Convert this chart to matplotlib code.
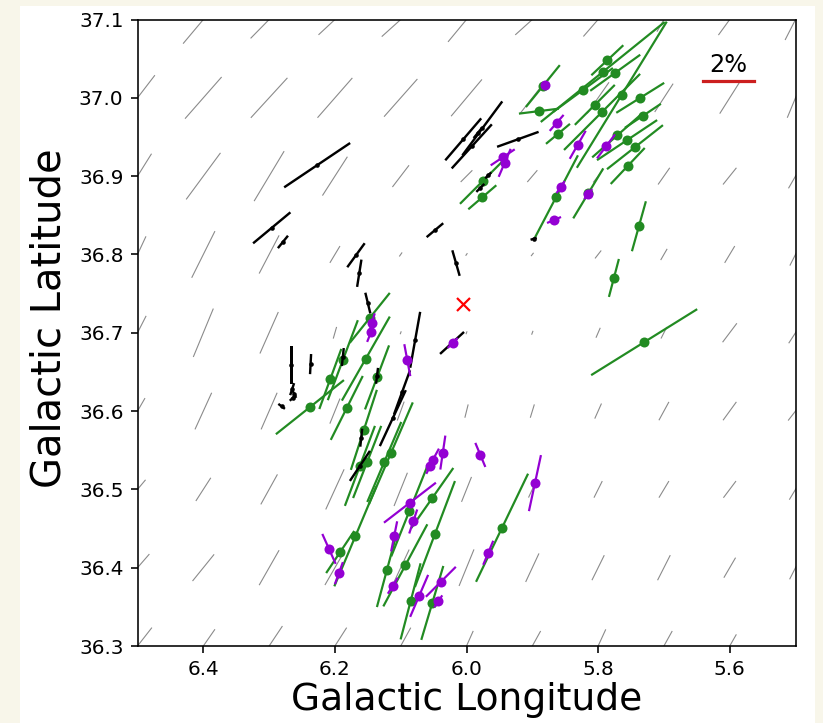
import matplotlib
matplotlib.use("Agg")
import matplotlib.pyplot as plt
import numpy as np
from matplotlib.patches import Rectangle

# ---- background field (Planck-like), rows = lat 37.1 -> 36.3, cols = lon 6.5 -> 5.5
bg_lon = [6.5, 6.4, 6.3, 6.2, 6.1, 6.0, 5.9, 5.8, 5.7, 5.6, 5.5]
bg_lat = [37.1, 37.0, 36.9, 36.8, 36.7, 36.6, 36.5, 36.4, 36.3]
bg_p = [
    [2.13, 2.44, 2.05, 1.74, 1.98, 2.25, 1.78, 1.74, 1.09, 1.49, 1.78],
    [2.21, 2.15, 2.10, 2.05, 1.95, 1.86, 1.55, 1.47, 1.31, 1.45, 1.67],
    [2.05, 2.24, 2.26, 1.79, 1.06, 0.64, 0.60, 0.62, 0.79, 0.83, 1.09],
    [1.55, 2.02, 1.67, 0.76, 0.19, 0.12, 0.16, 0.39, 0.50, 0.76, 0.97],
    [1.47, 2.03, 1.76, 0.47, 0.12, 0.12, 0.16, 0.42, 0.50, 0.92, 0.97],
    [1.16, 1.56, 1.55, 1.05, 0.78, 0.53, 0.54, 0.64, 0.81, 0.88, 0.93],
    [0.97, 1.07, 1.33, 1.71, 1.39, 1.04, 0.70, 0.72, 0.75, 0.81, 0.93],
    [1.40, 1.33, 1.56, 1.55, 1.55, 1.53, 1.22, 1.08, 1.09, 0.90, 1.01],
    [1.81, 1.58, 1.86, 1.69, 1.62, 1.28, 1.33, 1.42, 1.33, 1.04, 0.97],
]
bg_pa = [
    [140, 140, 135.5, 133, 132, 140.4, 132, 139, 150, 144, 153],
    [142.5, 138.7, 137.5, 138.8, 138.5, 140, 142, 145, 147, 147.7, 157.5],
    [148, 143.6, 149, 147.3, 142.6, 135, 139.5, 142, 145, 141.2, 150],
    [155, 153.5, 152.4, 149, 145, 145, 142, 142, 150, 149, 153],
    [153, 157.5, 156.1, 164, 160, 160, 160, 156.6, 153, 143, 147],
    [150, 155.5, 156.4, 158, 160, 166, 163, 156, 151.4, 144, 142],
    [140, 147.2, 151, 155.4, 158.1, 158.2, 155, 153.4, 149, 143, 149],
    [139, 141, 150.3, 150, 155, 157.8, 155, 153.7, 153.1, 149.7, 153],
    [142, 145.2, 146.3, 147.4, 151.3, 156, 151, 155.3, 151, 150.2, 150],
]

# ---- stellar polarization vectors: lon, lat, p (%), PA (deg, E of N)
black_lon = [6.227, 6.296, 6.279, 6.048, 6.168, 6.163, 6.150, 6.016, 6.005, 5.992,
             5.976, 5.983, 5.922, 5.967, 5.898, 6.266, 6.265, 6.262, 6.264, 6.237,
             6.281, 6.078, 6.098, 6.112, 6.188, 6.136, 6.160, 6.162, 6.022, 5.979]
black_lat = [36.914, 36.834, 36.816, 36.831, 36.799, 36.776, 36.738, 36.789, 36.947, 36.938,
             36.961, 36.955, 36.947, 36.901, 36.820, 36.659, 36.628, 36.622, 36.617, 36.660,
             36.606, 36.691, 36.624, 36.591, 36.669, 36.645, 36.566, 36.530, 36.687, 36.885]
black_p = [3.08, 1.88, 0.62, 0.84, 1.15, 1.07, 0.82, 1.03, 2.14, 2.31,
           2.60, 0.50, 1.71, 0.33, 0.25, 1.47, 0.49, 0.35, 0.33, 0.78,
           0.32, 2.20, 1.81, 2.39, 0.70, 0.62, 0.70, 1.40, 1.26, 0.44]
black_pa = [123.9, 129.7, 141, 130, 144, 171, 13.6, 16, 139.4, 137.7,
            143.5, 141, 109.8, 135, 108, 0, 162, 27, 135, 177,
            52.9, 169.9, 160, 155.1, 174, 173, 174, 146.3, 132.5, 135]

green_lon = [5.786, 5.793, 5.774, 5.823, 5.764, 5.736, 5.805, 5.794, 5.890, 5.732,
             5.861, 5.771, 5.756, 5.744, 5.755, 5.975, 5.976, 5.864, 5.738, 5.776,
             5.884, 5.815, 5.730, 6.238, 6.207, 6.188, 6.153, 6.136, 6.182, 6.156,
             6.147, 6.162, 6.151, 6.125, 6.115, 6.087, 6.052, 6.048, 6.093, 6.169,
             6.192, 5.946, 6.085, 6.052, 6.121]
green_lat = [37.048, 37.033, 37.032, 37.010, 37.004, 37.000, 36.991, 36.982, 36.983, 36.977,
             36.954, 36.952, 36.946, 36.937, 36.913, 36.894, 36.873, 36.873, 36.836, 36.770,
             37.015, 36.878, 36.688, 36.605, 36.641, 36.665, 36.667, 36.643, 36.604, 36.576,
             36.719, 36.530, 36.535, 36.535, 36.546, 36.472, 36.489, 36.443, 36.403, 36.440,
             36.420, 36.451, 36.357, 36.355, 36.397]
green_p = [1.70, 6.17, 2.39, 2.88, 6.65, 2.19, 2.19, 4.17, 1.56, 1.68,
           1.21, 2.58, 2.80, 2.76, 1.92, 2.52, 1.43, 3.67, 2.01, 1.52,
           2.09, 2.26, 4.84, 3.37, 2.48, 3.31, 3.75, 2.65, 2.77, 3.26,
           2.48, 3.31, 3.00, 3.37, 4.30, 3.76, 2.84, 4.39, 3.61, 4.20,
           1.96, 4.65, 3.05, 2.99, 2.97]
green_pa = [133.2, 128.9, 125.8, 126.3, 148.4, 122, 135, 135, 97.1, 123.7,
            129.8, 131.3, 123.7, 128.2, 136.6, 135, 130.6, 152.4, 164.4, 165.3,
            141, 149, 121.9, 128.5, 159.9, 159.4, 150.3, 159.4, 153.4, 162,
            141.3, 159.4, 158.7, 157, 156.7, 158.2, 145, 159.3, 151.8, 157.2,
            146.3, 154.3, 165.3, 163.4, 164.9]

purple_lon = [5.881, 5.863, 5.831, 5.788, 5.945, 5.942, 5.857, 5.815, 5.867, 6.144,
              6.145, 6.090, 6.021, 6.036, 6.051, 6.055, 6.086, 5.979, 5.896, 6.081,
              6.110, 6.209, 6.194, 6.112, 6.072, 6.039, 6.043, 5.967]
purple_lat = [37.016, 36.968, 36.940, 36.938, 36.924, 36.917, 36.886, 36.877, 36.844, 36.712,
              36.701, 36.665, 36.687, 36.547, 36.538, 36.530, 36.483, 36.544, 36.508, 36.459,
              36.440, 36.424, 36.393, 36.377, 36.364, 36.382, 36.357, 36.419]
purple_p = [0.33, 0.82, 1.25, 1.16, 1.12, 1.18, 0.56, 0.50, 0.59, 0.81,
            0.83, 1.26, 0.55, 1.33, 0.97, 0.69, 2.54, 1.01, 2.22, 0.98,
            1.19, 1.27, 0.91, 0.73, 1.77, 1.64, 0.56, 1.01]
purple_pa = [135, 139, 150.3, 143.1, 123.7, 156.8, 146, 141, 113.2, 163.3,
             158.2, 10.6, 135, 171.6, 151.4, 153, 127.6, 22.6, 167.9, 161.6,
             168.7, 24.1, 160, 148, 156.8, 135, 146, 157.4]

cloud_center = (6.006, 36.737)
scale_bar_p = 2.0
SCALE = 25.5  # percent per axes width


def uv(p, pa):
    p = np.asarray(p, float)
    pa = np.radians(np.asarray(pa, float))
    # east (increasing lon) points to the left on screen
    return -p * np.sin(pa), p * np.cos(pa)


def draw_vectors(ax, lon, lat, p, pa, color, width, zorder):
    u, v = uv(p, pa)
    ax.quiver(lon, lat, u, v, angles="uv", scale_units="width", scale=SCALE,
              pivot="middle", headwidth=0, headlength=0, headaxislength=0,
              minlength=0, units="dots", width=width, color=color, zorder=zorder)


fig = plt.figure(figsize=(823 / 144, 723 / 144), dpi=144)
fig.patch.set_facecolor("#f8f6ea")
fig.patches.append(Rectangle((20 / 823, 0), 795 / 823, 717 / 723,
                             transform=fig.transFigure, facecolor="white",
                             edgecolor="none", zorder=-10))
ax = fig.add_axes([0.1671, 0.1065, 0.7995, 0.8665])

# background field
LON, LAT = np.meshgrid(bg_lon, bg_lat)
draw_vectors(ax, LON.ravel(), LAT.ravel(), np.ravel(bg_p), np.ravel(bg_pa),
             "#8a8a8a", 1.1, 1)

draw_vectors(ax, green_lon, green_lat, green_p, green_pa, "forestgreen", 2.2, 2)
ax.plot(green_lon, green_lat, "o", color="forestgreen", ms=5, mew=0, zorder=3)

draw_vectors(ax, black_lon, black_lat, black_p, black_pa, "black", 2.4, 4)
ax.plot(black_lon, black_lat, "o", color="black", ms=2.3, mew=0, zorder=5)

draw_vectors(ax, purple_lon, purple_lat, purple_p, purple_pa, "darkviolet", 2.2, 6)
ax.plot(purple_lon, purple_lat, "o", color="darkviolet", ms=5, mew=0, zorder=7)

ax.plot(*cloud_center, "x", color="red", ms=6.5, mew=1.1, zorder=8)

# 2% scale bar
x0 = 5.641
x1 = x0 - scale_bar_p / SCALE * 1.0
ax.plot([x0, x1], [37.021, 37.021], color="#cc1f1f", lw=1.6, zorder=8)
ax.text((x0 + x1) / 2, 37.026, "2%", ha="center", va="bottom", fontsize=12)

ax.set_xlim(6.5, 5.5)
ax.set_ylim(36.3, 37.1)
ax.set_xticks([6.4, 6.2, 6.0, 5.8, 5.6])
ax.set_yticks([36.3, 36.4, 36.5, 36.6, 36.7, 36.8, 36.9, 37.0, 37.1])
ax.xaxis.set_major_formatter(matplotlib.ticker.FormatStrFormatter("%.1f"))
ax.yaxis.set_major_formatter(matplotlib.ticker.FormatStrFormatter("%.1f"))
ax.tick_params(labelsize=10)
ax.set_xlabel("Galactic Longitude", fontsize=18.8, labelpad=1.5)
ax.set_ylabel("Galactic Latitude", fontsize=20)
ax.yaxis.set_label_coords(-0.104, 0.524)

fig.savefig("out.png", dpi=144, facecolor=fig.get_facecolor())
